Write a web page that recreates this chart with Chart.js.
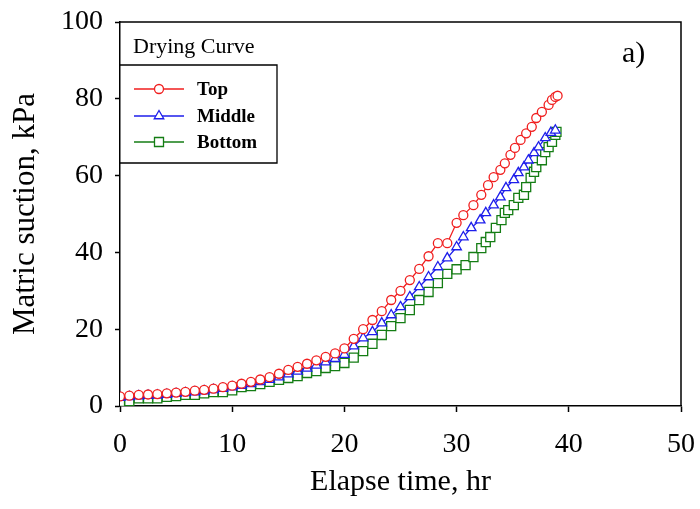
<!DOCTYPE html>
<html><head><meta charset="utf-8">
<script src="https://cdn.jsdelivr.net/npm/chart.js@4.4.0/dist/chart.umd.min.js"></script>
<style>html,body{margin:0;padding:0;background:#fff}#wrap{width:700px;height:509px}</style>
</head><body><div id="wrap"><canvas id="c" width="700" height="509"></canvas></div>
<script>
// ---- data ----
const topTime = [0,0.83,1.67,2.5,3.33,4.17,5,5.83,6.67,7.5,8.33,9.17,10,10.83,11.67,12.5,13.33,14.17,15,15.83,16.67,17.5,18.33,19.17,20,20.83,21.67,22.5,23.33,24.17,25,25.83,26.67,27.5,28.33,29.17,30,30.6,31.5,32.2,32.8,33.3,33.9,34.3,34.8,35.2,35.7,36.2,36.7,37.1,37.6,38.2,38.5,38.8,39.0];
const topSuction = [2.5,2.7,2.9,3.0,3.1,3.3,3.5,3.7,4.0,4.2,4.5,4.9,5.3,5.8,6.3,6.9,7.5,8.4,9.4,10.2,11.0,11.9,12.8,13.7,15.0,17.5,20.0,22.4,24.7,27.6,30.0,32.8,35.7,39.0,42.4,42.4,47.7,49.7,52.3,55.0,57.5,59.6,61.5,63.2,65.4,67.2,69.3,71.0,72.7,75.0,76.6,78.4,79.7,80.5,80.8];

const middleTime = [0,0.83,1.67,2.5,3.33,4.17,5,5.83,6.67,7.5,8.33,9.17,10,10.83,11.67,12.5,13.33,14.17,15,15.83,16.67,17.5,18.33,19.17,20,20.83,21.67,22.5,23.33,24.17,25,25.83,26.67,27.5,28.33,29.17,30,30.6,31.3,32.1,32.6,33.3,33.9,34.4,35.1,35.5,36.0,36.4,36.9,37.3,37.9,38.4,38.8];
const middleSuction = [2.2,2.4,2.6,2.7,2.8,3.0,3.2,3.4,3.6,3.9,4.2,4.5,4.9,5.3,5.8,6.3,6.9,7.5,8.3,9.0,9.8,10.6,11.4,12.3,13.4,15.6,17.7,19.3,21.6,23.7,25.8,28.4,31.0,33.6,36.2,38.5,41.4,44.0,46.4,48.4,50.3,52.3,54.4,56.8,58.9,60.7,62.2,64.0,65.9,67.4,69.8,71.2,71.8];

const bottomTime = [0,0.83,1.67,2.5,3.33,4.17,5,5.83,6.67,7.5,8.33,9.17,10,10.83,11.67,12.5,13.33,14.17,15,15.83,16.67,17.5,18.33,19.17,20,20.83,21.67,22.5,23.33,24.17,25,25.83,26.67,27.5,28.33,29.17,30,30.8,31.5,32.2,32.6,33.0,33.5,34.0,34.3,34.6,35.1,35.5,36.0,36.2,36.6,36.9,37.1,37.6,37.9,38.2,38.5,38.8,38.9];
const bottomSuction = [1.1,1.3,2.0,2.0,2.0,2.4,2.6,2.9,2.9,3.3,3.6,3.6,4.1,4.9,5.2,5.7,6.3,6.8,7.3,7.8,8.6,9.1,9.9,10.4,11.2,12.6,14.3,16.2,18.5,20.8,22.9,25.0,27.6,29.7,32.0,34.4,35.6,36.7,38.8,41.1,42.7,44.0,46.4,48.4,50.3,51.0,52.3,54.2,55.0,57.0,59.4,61.0,62.2,64.0,66.1,67.4,68.8,70.6,71.4];

const seriesNames = ['Top','Middle','Bottom'];
const xTickValues = [0,10,20,30,40,50];
const yTickValues = [0,20,40,60,80,100];
const legendTitle = 'Drying Curve';
const panelLabel = 'a)';
const xTitle = 'Elapse time, hr';
const yTitle = 'Matric suction, kPa';

const RED = 'rgb(240,30,30)', BLUE = 'rgb(30,30,235)', GREEN = 'rgb(20,125,20)';
const SERIF = "'Liberation Serif','Times New Roman',serif";

function pts(t, v){ return t.map((x,i)=>({x:x, y:v[i]})); }

function ds(label, data, color, style, r){
  return {label, data, showLine:true, borderColor:color, borderWidth:1.3,
    pointStyle:style, pointRadius:r, pointHoverRadius:r, pointBorderColor:color,
    pointBackgroundColor:'#fff', pointBorderWidth:1.3, tension:0};
}

function marker(ctx, style, x, y, color){
  ctx.save(); ctx.strokeStyle=color; ctx.fillStyle='#fff'; ctx.lineWidth=1.3;
  ctx.beginPath();
  if(style==='circle'){ ctx.arc(x,y,4.5,0,Math.PI*2); }
  else if(style==='triangle'){ const r=5.5; ctx.moveTo(x,y-r); ctx.lineTo(x+r*0.866,y+r*0.5); ctx.lineTo(x-r*0.866,y+r*0.5); ctx.closePath(); }
  else { const s=4.5; ctx.rect(x-s,y-s,2*s,2*s); }
  ctx.fill(); ctx.stroke(); ctx.restore();
}

const decor = {
  id:'decor',
  afterDraw(chart){
    const {ctx, chartArea:a} = chart;
    ctx.save();
    ctx.strokeStyle='#000'; ctx.lineWidth=1.5;
    ctx.beginPath(); ctx.moveTo(a.left,a.top); ctx.lineTo(a.right,a.top); ctx.lineTo(a.right,a.bottom); ctx.stroke();
    // legend
    const lx=a.left, rx=277;
    ctx.lineWidth=1.3;
    ctx.beginPath(); ctx.moveTo(lx,65); ctx.lineTo(rx,65); ctx.lineTo(rx,163); ctx.lineTo(lx,163); ctx.stroke();
    ctx.fillStyle='#000'; ctx.textBaseline='alphabetic'; ctx.textAlign='left';
    ctx.font='22px '+SERIF; ctx.fillText(legendTitle, 133, 53);
    const items=[[RED,'circle',89,95],[BLUE,'triangle',116,122],[GREEN,'rect',142,148]];
    items.forEach((it,i)=>{
      ctx.strokeStyle=it[0]; ctx.lineWidth=1.5;
      ctx.beginPath(); ctx.moveTo(134,it[2]); ctx.lineTo(184,it[2]); ctx.stroke();
      marker(ctx,it[1],159,it[2],it[0]);
      ctx.fillStyle='#000'; ctx.font='bold 19px '+SERIF; ctx.fillText(seriesNames[i],197,it[3]);
    });
    ctx.font='30px '+SERIF; ctx.fillText(panelLabel, 622, 62);
    ctx.restore();
  }
};

const tickFont = {family:SERIF, size:28};
new Chart(document.getElementById('c'), {
  type:'scatter',
  data:{datasets:[
    ds(seriesNames[0], pts(topTime,topSuction), RED, 'circle', 4.5),
    ds(seriesNames[1], pts(middleTime,middleSuction), BLUE, 'triangle', 5.5),
    ds(seriesNames[2], pts(bottomTime,bottomSuction), GREEN, 'rect', 6.4)
  ]},
  options:{
    responsive:false, animation:false, devicePixelRatio:1,
    layout:{padding:{top:22,right:19,left:0,bottom:0}},
    plugins:{legend:{display:false}, tooltip:{enabled:false}},
    scales:{
      x:{type:'linear', min:0, max:50,
        afterBuildTicks:s=>{s.ticks=xTickValues.map(v=>({value:v}));},
        afterFit:s=>{s.height=103; s.paddingLeft=0; s.paddingRight=0;},
        ticks:{font:tickFont, color:'#000', padding:16, maxRotation:0},
        grid:{display:true, drawOnChartArea:false, drawTicks:true, tickLength:6, tickColor:'#000', tickWidth:1.5},
        border:{display:true, color:'#000', width:1.5},
        title:{display:true, text:xTitle, font:{family:SERIF,size:30}, color:'#000', padding:{top:0,bottom:9}}
      },
      y:{type:'linear', min:0, max:100,
        afterBuildTicks:s=>{s.ticks=yTickValues.map(v=>({value:v}));},
        afterFit:s=>{s.width=120; s.paddingTop=0; s.paddingBottom=0;},
        ticks:{font:tickFont, color:'#000', padding:12},
        grid:{display:true, drawOnChartArea:false, drawTicks:true, tickLength:5, tickColor:'#000', tickWidth:1.5},
        border:{display:true, color:'#000', width:1.5},
        title:{display:true, text:yTitle, font:{family:SERIF,size:31}, color:'#000', padding:{top:7,bottom:0}}
      }
    }
  },
  plugins:[decor]
});
</script></body></html>
